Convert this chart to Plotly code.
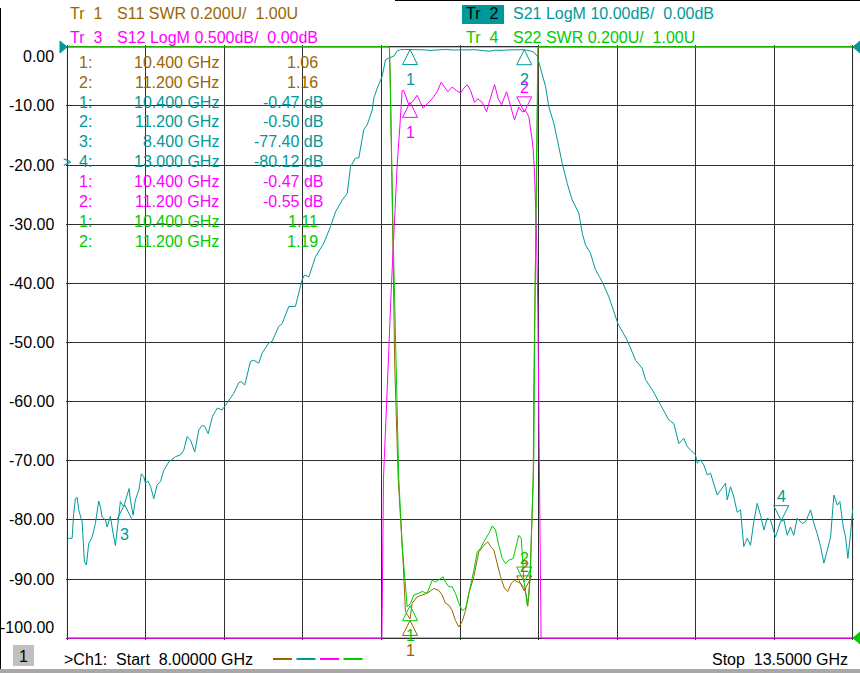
import numpy as np
import plotly.graph_objects as go

FONT = "Liberation Sans, Arial, sans-serif"
BROWN, TEAL, MAGENTA, GREEN = "#996600", "#009999", "#ff00ff", "#00cc00"
GRID = "#303030"

# ---- trace data (frequency in GHz) ----
# Tr 2  S21 LogM 10 dB/div, ref 0.00 dB on top line
s21_freq = [8.002, 8.033, 8.044, 8.056, 8.068, 8.079, 8.103, 8.119, 8.133, 8.149,
            8.173, 8.184, 8.196, 8.219, 8.231, 8.243, 8.266, 8.278, 8.301, 8.320,
            8.336, 8.359, 8.371, 8.394, 8.418, 8.432, 8.441, 8.460, 8.476, 8.500,
            8.518, 8.535, 8.547, 8.563, 8.582, 8.605, 8.628, 8.652, 8.675, 8.710,
            8.757, 8.792, 8.815, 8.839, 8.862, 8.892, 8.920, 8.944, 8.962, 8.986,
            9.016, 9.049, 9.084, 9.107, 9.165, 9.200, 9.217, 9.242, 9.282, 9.305,
            9.340, 9.364, 9.410, 9.434, 9.480, 9.504, 9.551, 9.597, 9.644, 9.661,
            9.691, 9.738, 9.796, 9.843, 9.878, 9.925, 9.960, 9.983, 10.018, 10.041,
            10.076, 10.100, 10.135, 10.146, 10.170, 10.205, 10.216, 10.228, 10.251, 10.286,
            10.310, 10.333, 10.360, 10.400, 10.450, 10.500, 10.540, 10.600, 10.650, 10.700,
            10.750, 10.800, 10.850, 10.900, 10.960, 11.000, 11.030, 11.100, 11.150, 11.200,
            11.244, 11.267, 11.291, 11.302, 11.326, 11.349, 11.372, 11.407, 11.442, 11.466,
            11.501, 11.536, 11.582, 11.606, 11.629, 11.664, 11.699, 11.746, 11.793, 11.828,
            11.856, 11.921, 11.980, 12.027, 12.050, 12.097, 12.143, 12.178, 12.213, 12.248,
            12.283, 12.318, 12.342, 12.365, 12.400, 12.412, 12.435, 12.458, 12.482, 12.505,
            12.528, 12.552, 12.575, 12.610, 12.622, 12.645, 12.668, 12.692, 12.715, 12.738,
            12.762, 12.785, 12.808, 12.832, 12.855, 12.879, 12.902, 12.925, 12.960, 12.995,
            13.019, 13.042, 13.065, 13.088, 13.112, 13.147, 13.171, 13.206, 13.229, 13.252,
            13.276, 13.299, 13.323, 13.346, 13.369, 13.393, 13.411, 13.435, 13.451, 13.467,
            13.486, 13.500]
s21_db = [-83.1, -83.1, -78.9, -76.4, -76.2, -78.3, -80.3, -87.1, -87.6, -84.0,
          -82.9, -82.0, -80.6, -76.8, -77.8, -79.5, -80.0, -81.2, -79.4, -82.3,
          -84.3, -79.5, -76.9, -77.8, -75.8, -74.7, -76.6, -79.2, -76.6, -75.0,
          -72.2, -72.7, -73.8, -73.4, -74.3, -76.4, -74.1, -73.5, -71.6, -70.2,
          -69.3, -69.0, -68.2, -65.9, -66.5, -68.5, -64.8, -64.0, -64.2, -65.4,
          -62.5, -61.1, -61.4, -60.6, -58.6, -56.8, -56.6, -57.2, -53.2, -53.0,
          -53.5, -51.8, -50.1, -49.8, -47.3, -46.8, -43.9, -43.9, -39.4, -38.6,
          -38.9, -35.5, -33.2, -30.4, -27.9, -25.9, -24.8, -20.3, -18.8, -18.8,
          -14.0, -13.2, -10.7, -8.7, -7.0, -5.0, -3.3, -2.2, -1.9, -1.6,
          -0.7, -0.5, -0.45, -0.47, -0.44, -0.52, -0.62, -0.50, -0.45, -0.55,
          -0.48, -0.52, -0.50, -0.58, -0.75, -0.55, -0.62, -0.52, -0.50, -0.50,
          -0.7, -0.9, -1.6, -2.5, -4.5, -6.7, -10.1, -12.9, -16.9, -19.7,
          -23.1, -25.9, -28.1, -31.5, -33.5, -34.9, -37.7, -39.7, -42.3, -44.8,
          -46.8, -49.6, -53.0, -54.4, -56.3, -58.0, -60.0, -61.7, -63.1, -63.7,
          -67.1, -66.2, -67.6, -68.2, -69.0, -70.4, -69.9, -70.7, -72.4, -72.1,
          -73.8, -75.8, -75.0, -73.8, -76.6, -74.4, -76.1, -78.7, -78.3, -84.5,
          -83.1, -84.3, -80.3, -77.2, -79.2, -81.7, -79.7, -80.0, -82.9, -80.3,
          -80.0, -82.6, -81.2, -82.6, -79.7, -80.6, -80.3, -78.3, -80.6, -82.3,
          -84.5, -87.3, -85.1, -82.9, -75.8, -77.5, -76.9, -81.2, -82.9, -86.5,
          -82.3, -78.3]

# Tr 3  S12 LogM 0.5 dB/div, ref 0.00 dB on top line
s12_freq = [8.000, 10.203, 10.214, 10.233, 10.251, 10.268, 10.286, 10.310, 10.330, 10.345,
            10.356, 10.368, 10.391, 10.415, 10.450, 10.473, 10.492, 10.520, 10.555, 10.590,
            10.618, 10.641, 10.665, 10.695, 10.725, 10.754, 10.777, 10.801, 10.824, 10.852,
            10.875, 10.906, 10.936, 10.959, 10.992, 11.018, 11.041, 11.076, 11.099, 11.132,
            11.162, 11.186, 11.209, 11.232, 11.256, 11.263, 11.272, 11.279, 11.286, 11.295,
            11.302, 11.309, 11.318, 13.500]
s12_db = [-78.0, -6.0, -3.65, -3.14, -2.57, -2.06, -1.55, -1.0, -0.65, -0.37,
          -0.37, -0.41, -0.49, -0.47, -0.41, -0.47, -0.52, -0.48, -0.44, -0.38,
          -0.30, -0.34, -0.38, -0.34, -0.37, -0.39, -0.35, -0.32, -0.37, -0.47,
          -0.44, -0.47, -0.55, -0.45, -0.32, -0.44, -0.49, -0.38, -0.47, -0.62,
          -0.51, -0.55, -0.54, -0.59, -0.79, -0.87, -1.07, -1.30, -1.58, -2.2,
          -3.05, -3.9, -6.0, -80.0]

# Tr 1  S11 SWR 0.2 U/div, ref 1.00 U on bottom line
s11_freq = [8.000, 10.255, 10.263, 10.277, 10.293, 10.317, 10.333, 10.352, 10.368, 10.391,
            10.400, 10.415, 10.450, 10.485, 10.520, 10.566, 10.601, 10.625, 10.648, 10.672,
            10.695, 10.718, 10.742, 10.765, 10.789, 10.812, 10.847, 10.882, 10.917, 10.945,
            10.964, 10.987, 11.011, 11.034, 11.062, 11.085, 11.109, 11.132, 11.155, 11.174,
            11.193, 11.202, 11.216, 11.225, 11.239, 11.249, 11.256, 11.263, 11.267, 11.291,
            11.298, 13.500]
s11_swr = [40.0, 3.1, 2.86, 2.38, 1.92, 1.54, 1.422, 1.254, 1.09, 1.07,
           1.065, 1.118, 1.14, 1.146, 1.152, 1.168, 1.162, 1.146, 1.118, 1.112,
           1.094, 1.06, 1.038, 1.056, 1.094, 1.152, 1.208, 1.292, 1.314, 1.326,
           1.31, 1.298, 1.252, 1.208, 1.168, 1.158, 1.186, 1.196, 1.19, 1.186,
           1.174, 1.17, 1.14, 1.108, 1.196, 1.31, 1.422, 1.534, 1.85, 2.73,
           3.2, 40.0]

# Tr 4  S22 SWR 0.2 U/div, ref 1.00 U on bottom line
s22_freq = [8.000, 10.249, 10.256, 10.281, 10.310, 10.321, 10.347, 10.368, 10.380, 10.403,
            10.426, 10.461, 10.485, 10.520, 10.555, 10.578, 10.613, 10.632, 10.648, 10.672,
            10.695, 10.718, 10.742, 10.765, 10.789, 10.824, 10.847, 10.871, 10.894, 10.917,
            10.952, 10.976, 10.999, 11.022, 11.046, 11.069, 11.092, 11.123, 11.146, 11.162,
            11.179, 11.197, 11.209, 11.221, 11.232, 11.244, 11.251, 11.256, 11.263, 11.267,
            11.274, 11.286, 11.295, 11.300, 13.500]
s22_swr = [40.0, 3.2, 3.0, 2.38, 1.74, 1.54, 1.30, 1.162, 1.106, 1.118,
           1.146, 1.152, 1.158, 1.152, 1.196, 1.19, 1.202, 1.208, 1.19, 1.174,
           1.174, 1.152, 1.118, 1.094, 1.10, 1.174, 1.23, 1.292, 1.304, 1.326,
           1.354, 1.38, 1.366, 1.314, 1.27, 1.252, 1.264, 1.27, 1.314, 1.348,
           1.338, 1.196, 1.158, 1.112, 1.146, 1.22, 1.366, 1.434, 1.534, 1.608,
           2.068, 2.766, 2.996, 3.5, 40.0]

# ---- markers ----
s11_mk_freq = [10.400, 11.200]
s11_mk_val = [1.06, 1.16]
s21_mk_freq = [10.400, 11.200, 8.400, 13.000]
s21_mk_val = [-0.47, -0.50, -77.40, -80.12]
s12_mk_freq = [10.400, 11.200]
s12_mk_val = [-0.47, -0.55]
s22_mk_freq = [10.400, 11.200]
s22_mk_val = [1.11, 1.19]

y_ticks = [0, -10, -20, -30, -40, -50, -60, -70, -80, -90, -100]

# trace setup: name, freq, values, per-div, ref value, ref line, colour, unit, marker directions
traces = [
    ("S11", s11_freq, s11_swr, 0.2, 1.0, -100, BROWN, "", s11_mk_freq, s11_mk_val, ["up", "down"]),
    ("S21", s21_freq, s21_db, 10.0, 0.0, 0, TEAL, " dB", s21_mk_freq, s21_mk_val, ["up", "up", "up", "down"]),
    ("S12", s12_freq, s12_db, 0.5, 0.0, 0, MAGENTA, " dB", s12_mk_freq, s12_mk_val, ["up", "down"]),
    ("S22", s22_freq, s22_swr, 0.2, 1.0, -100, GREEN, "", s22_mk_freq, s22_mk_val, ["up", "down"]),
]


def to_grid(vals, per_div, ref, ref_line):
    v = ref_line + (np.asarray(vals, dtype=float) - ref) / per_div * 10
    return np.clip(v, -100, 0)


# pixel helpers for the screen furniture (plot area: l=66, t=45, 788 x 595)
L, T, W, H = 66, 45, 788, 595


def px(x):
    return (x - L) / W


def py(y):
    return 1 - (y - T) / H


def label(x, y, text, col="black", anchor="left", size=16):
    return dict(x=px(x), y=py(y), xref="paper", yref="paper", xanchor=anchor, yanchor="middle",
                text=text, showarrow=False, font=dict(color=col, size=size))


fig = go.Figure()
shapes = []
annotations = []

# outer frame of the plot area
shapes.append(dict(type="rect", xref="x", yref="y", x0=8, x1=13.5, y0=-100, y1=0,
                   line=dict(color="black", width=1), layer="below"))

for name, fr, vals, per_div, ref, ref_line, col, unit, mf, mv, dirs in traces:
    fig.add_trace(go.Scatter(x=fr, y=to_grid(vals, per_div, ref, ref_line), mode="lines",
                             line=dict(color=col, width=1), name=name, hoverinfo="skip"))
    for f, v, d, lab in zip(mf, mv, dirs, range(1, len(mf) + 1)):
        yv = float(to_grid([v], per_div, ref, ref_line)[0])
        if d == "up":
            path = "M0,0 L-7.5,-15 L7.5,-15 Z"
            shift = -30
        else:
            path = "M0,0 L-7.5,15 L7.5,15 Z"
            shift = 24
        shapes.append(dict(type="path", xref="x", yref="y", xsizemode="pixel", ysizemode="pixel",
                           xanchor=f, yanchor=yv, path=path,
                           line=dict(color=col, width=1), fillcolor="rgba(0,0,0,0)"))
        annotations.append(dict(x=f, y=yv, xref="x", yref="y", text=str(lab), showarrow=False,
                                xanchor="center", yanchor="middle", yshift=shift,
                                font=dict(color=col, size=16)))

# marker readout table
row = 0
for name, fr, vals, per_div, ref, ref_line, col, unit, mf, mv, dirs in traces:
    for i, (f, v) in enumerate(zip(mf, mv)):
        y = 62.3 + 19.9 * row
        annotations.append(label(77, y, f"{i + 1}:", col))
        annotations.append(label(221, y, f"{f:.3f} GHz", col, "right"))
        annotations.append(label(325 if unit else 320, y, f"{v:.2f}{unit}", col, "right"))
        if name == "S21" and i == 3:
            annotations.append(label(61, y, ">", col, "left", 14))
        row += 1

# y scale labels
for v in y_ticks:
    ys = -10 if v == 0 else (11 if v == -100 else 0)
    annotations.append(dict(x=px(56), y=v, xref="paper", yref="y", xanchor="right",
                            yanchor="middle", yshift=ys, text=f"{v:.2f}", showarrow=False,
                            font=dict(color="black")))

# trace headers
headers = [
    (68, 14, "Tr\u00a0\u00a01", "S11 SWR 0.200U/\u00a0\u00a01.00U", BROWN),
    (68, 37, "Tr\u00a0\u00a03", "S12 LogM 0.500dB/\u00a0\u00a00.00dB", MAGENTA),
    (464, 14, "Tr\u00a0\u00a02", "S21 LogM 10.00dB/\u00a0\u00a00.00dB", TEAL),
    (464, 37, "Tr\u00a0\u00a04", "S22 SWR 0.200U/\u00a0\u00a01.00U", GREEN),
]
shapes.append(dict(type="rect", xref="paper", yref="paper", x0=px(462), x1=px(504),
                   y0=py(24), y1=py(5), fillcolor=TEAL, line=dict(width=0)))
for x, y, tr, desc, col in headers:
    annotations.append(label(x, y, tr, "black" if col == TEAL else col))
    annotations.append(label(x + 47, y, desc, col))

# reference position arrows
shapes.append(dict(type="path", xref="paper", yref="paper",
                   path=f"M{px(60)},{py(41)} L{px(67)},{py(47)} L{px(60)},{py(53)} Z",
                   fillcolor=TEAL, line=dict(color=TEAL, width=1)))
shapes.append(dict(type="path", xref="paper", yref="paper",
                   path=f"M{px(860)},{py(41)} L{px(853)},{py(47)} L{px(860)},{py(53)} Z",
                   fillcolor=TEAL, line=dict(color=TEAL, width=1)))
shapes.append(dict(type="path", xref="paper", yref="paper",
                   path=f"M{px(860)},{py(632)} L{px(853)},{py(638)} L{px(860)},{py(644)} Z",
                   fillcolor=GREEN, line=dict(color=GREEN, width=1)))

# status line
shapes.append(dict(type="rect", xref="paper", yref="paper", x0=px(13), x1=px(34),
                   y0=py(666), y1=py(645), fillcolor="#c0c0c0", line=dict(width=0)))
annotations.append(label(23.5, 656, "1", "black", "center"))
annotations.append(label(62, 659, ">Ch1:\u00a0\u00a0Start\u00a0\u00a08.00000 GHz"))
annotations.append(label(850, 659, "Stop\u00a0\u00a013.5000 GHz", "black", "right"))
for i, tr in enumerate(traces):
    x0 = 273 + 23.5 * i
    shapes.append(dict(type="line", xref="paper", yref="paper", x0=px(x0), x1=px(x0 + 19),
                       y0=py(659), y1=py(659), line=dict(color=tr[6], width=2)))

# screen border bits
shapes.append(dict(type="rect", xref="paper", yref="paper", x0=px(0), x1=px(860),
                   y0=py(673), y1=py(669), fillcolor="#a8a8a8", line=dict(width=0)))
shapes.append(dict(type="line", xref="paper", yref="paper", x0=px(0.5), x1=px(0.5),
                   y0=py(8), y1=py(669), line=dict(color="black", width=1)))
shapes.append(dict(type="line", xref="paper", yref="paper", x0=px(395), x1=px(860),
                   y0=py(0.5), y1=py(0.5), line=dict(color="black", width=1)))

fig.update_layout(
    width=860, height=673, autosize=False,
    margin=dict(l=L, r=860 - L - W, t=T, b=673 - T - H, pad=0),
    paper_bgcolor="white", plot_bgcolor="rgba(0,0,0,0)",
    showlegend=False, font=dict(family=FONT, size=16, color="black"),
    shapes=shapes, annotations=annotations,
)
fig.update_xaxes(range=[7.99, 13.51], tick0=8, dtick=0.55, showgrid=True, gridcolor=GRID,
                 gridwidth=1, showticklabels=False, zeroline=False, ticks="", showline=False)
fig.update_yaxes(range=[-100.3, 0.3], tick0=0, dtick=10, showgrid=True, gridcolor=GRID,
                 gridwidth=1, showticklabels=False, zeroline=False, ticks="", showline=False)

# the page body has a default margin; drop it so the figure sits at the window corner
fig.write_html("out.html", config={"displayModeBar": False},
               post_script="document.body.style.margin='0';document.body.style.overflow='hidden';")
